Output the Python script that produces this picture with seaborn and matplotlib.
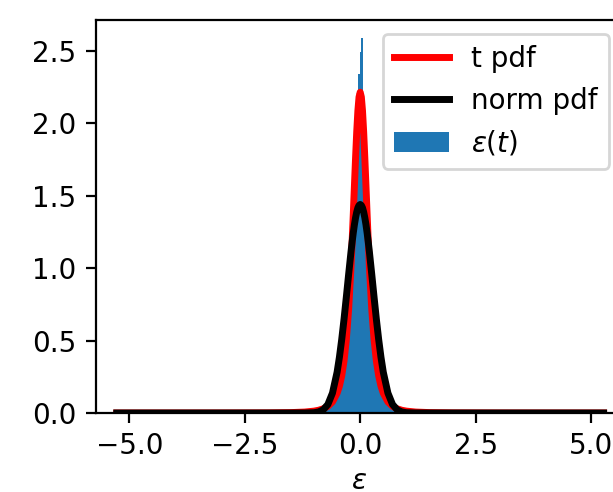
import numpy as np
import pandas as pd
import matplotlib
matplotlib.use("Agg")
import matplotlib.pyplot as plt
import seaborn as sns

# ---- data ----
pdf_x = [-5.27, -4.0, -3.0, -2.0, -1.5, -1.2, -1.0, -0.9, -0.8, -0.7, -0.6, -0.5,
         -0.45, -0.4, -0.35, -0.3, -0.25, -0.2, -0.175, -0.15, -0.125, -0.1,
         -0.075, -0.05, -0.025, 0.0,
         0.025, 0.05, 0.075, 0.1, 0.125, 0.15, 0.175, 0.2, 0.25, 0.3, 0.35, 0.4,
         0.45, 0.5, 0.6, 0.7, 0.8, 0.9, 1.0, 1.2, 1.5, 2.0, 3.0, 4.0, 5.27]

t_pdf = [0.00002, 0.00006, 0.00018, 0.0009, 0.0028, 0.0065, 0.0129, 0.0190, 0.0290,
         0.0462, 0.0772, 0.137, 0.186, 0.257, 0.360, 0.508, 0.718, 1.006, 1.179,
         1.369, 1.567, 1.763, 1.942, 2.087, 2.182, 2.215,
         2.182, 2.087, 1.942, 1.763, 1.567, 1.369, 1.179, 1.006, 0.718, 0.508,
         0.360, 0.257, 0.186, 0.137, 0.0772, 0.0462, 0.0290, 0.0190, 0.0129,
         0.0065, 0.0028, 0.0009, 0.00018, 0.00006, 0.00002]

norm_pdf = [0.0, 0.0, 0.0, 0.0, 0.0, 0.0001, 0.0021, 0.0073, 0.0222, 0.0591, 0.138,
            0.282, 0.385, 0.508, 0.648, 0.801, 0.958, 1.110, 1.180, 1.244, 1.301,
            1.349, 1.388, 1.417, 1.434, 1.440,
            1.434, 1.417, 1.388, 1.349, 1.301, 1.244, 1.180, 1.110, 0.958, 0.801,
            0.648, 0.508, 0.385, 0.282, 0.138, 0.0591, 0.0222, 0.0073, 0.0021,
            0.0001, 0.0, 0.0, 0.0, 0.0, 0.0]

hist_heights = [0.013, 0.015, 0.017, 0.020, 0.024, 0.028, 0.034, 0.041, 0.050, 0.061,
                0.076, 0.095, 0.119, 0.152, 0.196, 0.254, 0.333, 0.437, 0.578, 0.762,
                0.995, 1.275, 1.580, 1.870, 2.34, 2.49, 2.59, 1.80, 1.500, 1.200,
                0.932, 0.711, 0.540, 0.409, 0.311, 0.238, 0.184, 0.144, 0.113, 0.090,
                0.072, 0.058, 0.048, 0.039, 0.032, 0.027, 0.023, 0.019, 0.016, 0.014,
                0.012]
hist_lo, hist_hi = -1.015, 1.025

x_ticks = [-5.0, -2.5, 0.0, 2.5, 5.0]
y_ticks = [0.0, 0.5, 1.0, 1.5, 2.0, 2.5]

# ---- figure ----
bin_edges = np.linspace(hist_lo, hist_hi, len(hist_heights) + 1)
bin_centers = 0.5 * (bin_edges[:-1] + bin_edges[1:])
hist_df = pd.DataFrame({"eps": bin_centers, "h": hist_heights})

fig = plt.figure(figsize=(6.13 / 2, 4.92 / 2), dpi=200)
ax = fig.add_axes([96 / 613, 79 / 492, 527 / 613, 393 / 492])

sns.histplot(data=hist_df, x="eps", weights="h", bins=[float(b) for b in bin_edges],
             color="#1f77b4", alpha=1, edgecolor="none", linewidth=0,
             label=r"$\epsilon(t)$", ax=ax)
sns.lineplot(x=pdf_x, y=t_pdf, color="red", linewidth=2.5, label="t pdf", ax=ax)
sns.lineplot(x=pdf_x, y=norm_pdf, color="black", linewidth=2.5, label="norm pdf", ax=ax)

ax.set_xlim(-5.72, 5.69)
ax.set_ylim(0, 2.714)
ax.set_xticks(x_ticks)
ax.set_yticks(y_ticks)
ax.set_xlabel(r"$\epsilon$", labelpad=2.5)
ax.set_ylabel("")
ax.legend(loc="upper right")

fig.savefig("out.png", dpi=200)
